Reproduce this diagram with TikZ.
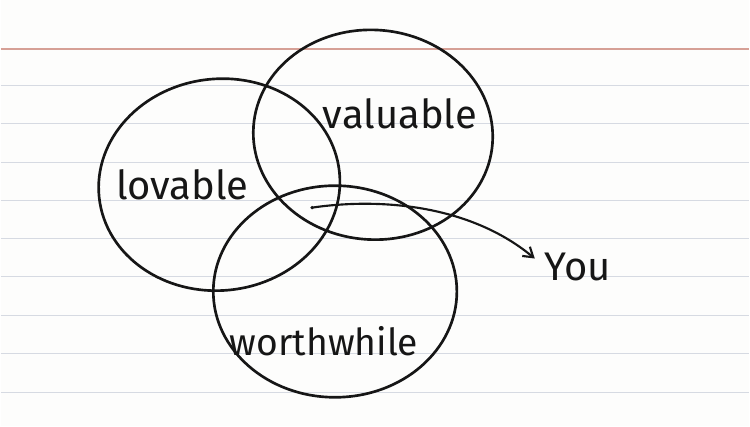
\documentclass[tikz,border=0pt]{standalone}
\usepackage{fontspec}
\setmainfont{Fira Sans}
\usetikzlibrary{arrows.meta}

\definecolor{paper}{RGB}{253,253,252}
\definecolor{ruleblue}{RGB}{214,218,226}
\definecolor{rulered}{RGB}{214,160,150}
\definecolor{ink}{RGB}{22,22,22}

\tikzset{every picture/.style={line width=0.75pt}}
\tikzset{
  ring/.style={draw=ink, line width=2pt},
  word/.style={text=ink, font=\fontsize{30}{30}\selectfont, inner sep=0pt}
}

\begin{document}
\begin{tikzpicture}[x=0.75pt,y=0.75pt,yscale=-1,xscale=1]
%set diagram left start at 0, and has height of 427
\path [fill=paper] (0,0) rectangle (750,427);

%Lines: ruled paper
\draw [rulered, line width=1pt] (0,49) -- (750,49);
\foreach \y in {86,124,163,201,239,277,316,354,393}
  \draw [ruleblue, line width=0.9pt] (0,\y) -- (750,\y);

%Shape: Ellipse [lovable]
\draw [ring, rotate around={-6:(219,185)}] (219,185) ellipse [x radius=121, y radius=106];
%Shape: Ellipse [valuable]
\draw [ring, rotate around={4:(373,135)}] (373,135) ellipse [x radius=120, y radius=105];
%Shape: Ellipse [worthwhile]
\draw [ring] (335,292) ellipse [x radius=122, y radius=106];

% Text Node
\node [word] (lovable) at (182,185) {lovable};
% Text Node
\node [word] (valuable) at (400,114) {valuable};
% Text Node
\node [word, font=\fontsize{28}{28}\selectfont] (worthwhile) at (324,342) {worthwhile};
% Text Node
\node [word] (you) at (578,267) {You};

%Arrow: from the middle to you
\coordinate (core) at (312,208);
\fill [ink] (core) circle (1.8);
\draw [ink, line width=1.6pt, -{Straight Barb[length=7pt,width=9pt]}] (core) .. controls (380,198) and (470,205) .. ([xshift=-7pt,yshift=-6pt]you.west);

\end{tikzpicture}
\end{document}
